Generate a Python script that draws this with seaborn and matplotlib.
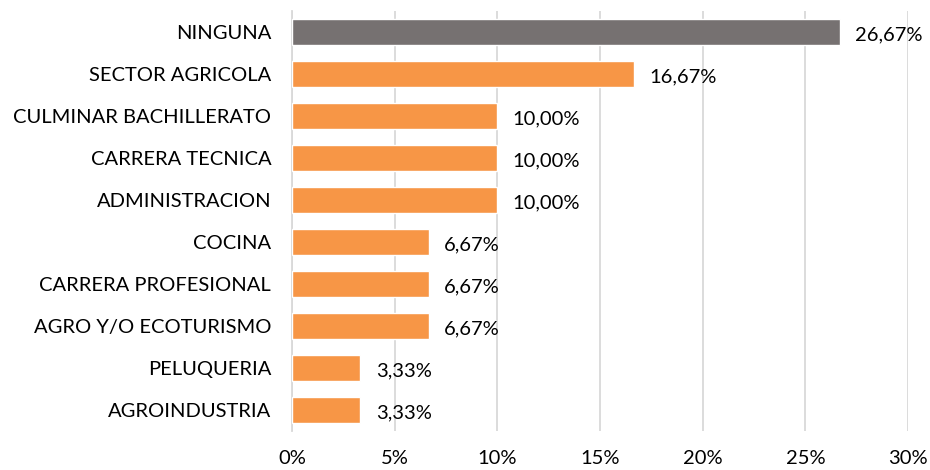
import matplotlib.pyplot as plt
import pandas as pd
import seaborn as sns
from matplotlib.ticker import FuncFormatter

categories = [
    "NINGUNA",
    "SECTOR AGRICOLA",
    "CULMINAR BACHILLERATO",
    "CARRERA TECNICA",
    "ADMINISTRACION",
    "COCINA",
    "CARRERA PROFESIONAL",
    "AGRO Y/O ECOTURISMO",
    "PELUQUERIA",
    "AGROINDUSTRIA",
]
percent = [26.67, 16.67, 10.00, 10.00, 10.00, 6.67, 6.67, 6.67, 3.33, 3.33]
bar_colors = ["#767171"] + ["#F79646"] * 9


def main() -> None:
    df = pd.DataFrame({"category": categories, "percent": percent})

    sns.set_theme(style="white")
    plt.rcParams["font.family"] = ["Lato", "DejaVu Sans"]

    fig = plt.figure(figsize=(9.3, 4.7), dpi=100)
    ax = fig.add_axes([292 / 930, 1 - 431 / 470, (908 - 292) / 930, (431 - 11) / 470])

    sns.barplot(
        data=df,
        x="percent",
        y="category",
        hue="category",
        palette=bar_colors,
        saturation=1,
        legend=False,
        width=0.6,
        ax=ax,
        zorder=3,
    )

    ax.set_xlim(0, 30)
    ax.set_xticks(range(0, 31, 5))
    ax.xaxis.set_major_formatter(FuncFormatter(lambda v, _: f"{v:.0f}%"))
    ax.grid(axis="x", color="#d9d9d9", linewidth=1.3, zorder=0)
    ax.set_axisbelow(True)
    for side in ["top", "right", "bottom"]:
        ax.spines[side].set_visible(False)
    ax.spines["left"].set_color("#d9d9d9")
    ax.spines["left"].set_linewidth(1.3)
    ax.tick_params(axis="x", length=0, pad=14, labelsize=14.5, colors="#000000")
    ax.tick_params(axis="y", length=0, pad=15, labelsize=14.5, colors="#000000")
    ax.set_xlabel("")
    ax.set_ylabel("")

    for i, v in enumerate(percent):
        ax.text(v + 0.75, i + 0.06, f"{v:.2f}%".replace(".", ","), va="center",
                ha="left", fontsize=14.5, color="#000000")

    fig.savefig("out.png", dpi=100)
    plt.close(fig)


if __name__ == "__main__":
    main()
